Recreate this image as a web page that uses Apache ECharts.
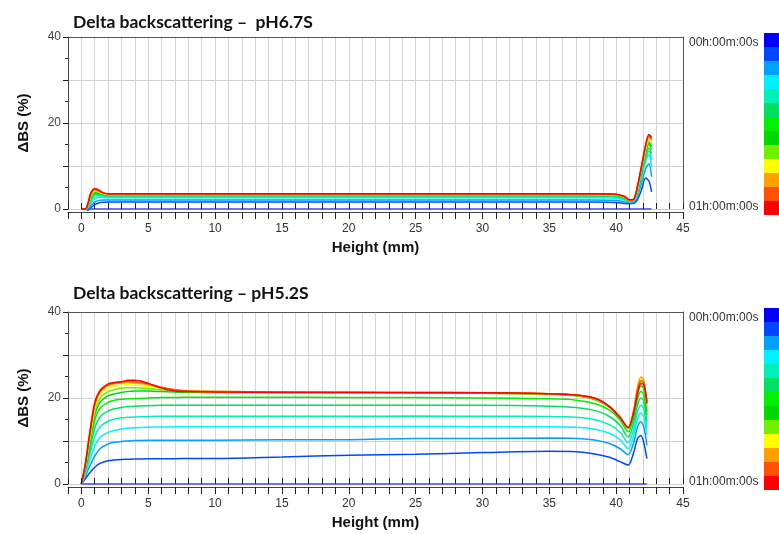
<!DOCTYPE html>
<html><head><meta charset="utf-8">
<script src="https://cdn.jsdelivr.net/npm/echarts@6/dist/echarts.min.js"></script>
<style>html,body{margin:0;padding:0;background:#fff}#c{width:779px;height:534px}</style>
</head><body><div id="c"></div>
<script>
// ---------- text ----------
const TITLES = ['Delta backscattering \u2013  pH6.7S', 'Delta backscattering \u2013 pH5.2S'];
const TIME_LABELS = ['00h:00m:00s', '01h:00m:00s'];
const X_NAME = 'Height (mm)';
const Y_NAME = '\u0394BS (%)';
const X_TICK_LABELS = [0, 5, 10, 15, 20, 25, 30, 35, 40, 45];
const Y_TICK_LABELS = [0, 20, 40];
// time-scale colours (00h -> 01h)
const COLORS = ['#0000ff','#0048ff','#00a0ff','#00f0ff','#00f0b8','#00e060','#00f000','#00d800','#70f000','#ffff00','#ffa000','#ff5000','#ff0000'];

// ---------- data: pH6.7S ----------
const X_TOP = [0, 0.3, 0.5, 0.7, 1.0, 1.3, 1.6, 2.0, 2.5, 3, 5, 10, 20, 30, 38, 40, 40.6, 41.0, 41.3, 41.6, 41.9, 42.2, 42.45, 42.65];
const TOP_00 = [0,0,0,0,0,0,0,0,0,0,0,0,0,0,0,0,0,0,0,0,0,0,0,0];
const TOP_01 = [0, 0, -0.3, 0.3, 1.0, 1.4, 1.55, 1.6, 1.6, 1.6, 1.6, 1.6, 1.6, 1.6, 1.6, 1.5, 1.3, 1.2, 1.3, 2.2, 4.5, 7.2, 6.5, 4.0];
const TOP_02 = [0, 0, 0, 0.8, 1.6, 2.0, 2.1, 2.1, 2.1, 2.1, 2.1, 2.1, 2.1, 2.1, 2.1, 2.0, 1.7, 1.5, 1.6, 3.0, 6.0, 9.3, 10.5, 7.5];
const TOP_03 = [0, 0, 0.4, 1.4, 2.4, 2.7, 2.65, 2.6, 2.6, 2.6, 2.6, 2.6, 2.6, 2.6, 2.6, 2.5, 2.1, 1.7, 1.8, 3.5, 7.2, 10.9, 12.6, 9.8];
const TOP_04 = [0, 0, 0.6, 1.9, 3.0, 3.1, 3.0, 2.9, 2.9, 2.9, 2.9, 2.9, 2.9, 2.9, 2.9, 2.8, 2.3, 1.8, 1.9, 3.8, 7.8, 11.6, 13.5, 11.5];
const TOP_05 = [0, 0, 0.7, 2.2, 3.4, 3.4, 3.2, 3.1, 3.1, 3.1, 3.1, 3.1, 3.1, 3.1, 3.1, 3.0, 2.5, 1.9, 2.0, 4.0, 8.2, 12.2, 14.2, 12.8];
const TOP_06 = [0, 0, 0.8, 2.5, 3.7, 3.6, 3.35, 3.2, 3.2, 3.2, 3.2, 3.2, 3.2, 3.2, 3.2, 3.1, 2.6, 1.95, 2.0, 4.2, 8.7, 12.9, 15.0, 13.8];
const TOP_07 = [0, 0, 0.9, 2.7, 3.9, 3.8, 3.5, 3.3, 3.3, 3.3, 3.3, 3.3, 3.3, 3.3, 3.3, 3.2, 2.7, 2.0, 2.05, 4.4, 8.9, 13.3, 15.4, 14.5];
const TOP_08 = [0, 0, 1.0, 2.9, 4.1, 3.9, 3.55, 3.35, 3.35, 3.35, 3.35, 3.35, 3.35, 3.35, 3.35, 3.25, 2.75, 2.0, 2.1, 4.6, 9.2, 13.6, 15.8, 15.0];
const TOP_09 = [0, 0, 1.1, 3.1, 4.3, 4.05, 3.6, 3.4, 3.4, 3.4, 3.4, 3.4, 3.4, 3.4, 3.4, 3.3, 2.8, 2.05, 2.1, 4.8, 9.4, 14.0, 16.3, 15.6];
const TOP_10 = [0, 0, 1.2, 3.3, 4.5, 4.2, 3.7, 3.45, 3.45, 3.45, 3.45, 3.45, 3.45, 3.45, 3.45, 3.35, 2.85, 2.1, 2.15, 5.0, 9.7, 14.4, 16.8, 16.0];
const TOP_11 = [0, 0, 1.3, 3.5, 4.6, 4.3, 3.75, 3.5, 3.5, 3.5, 3.5, 3.5, 3.5, 3.5, 3.5, 3.4, 2.9, 2.1, 2.2, 5.2, 9.9, 14.7, 17.1, 16.3];
const TOP_12 = [0, 0, 1.4, 3.7, 4.7, 4.4, 3.8, 3.55, 3.55, 3.55, 3.55, 3.55, 3.55, 3.55, 3.55, 3.45, 2.95, 2.15, 2.25, 5.4, 10.0, 14.8, 17.3, 16.6];

// ---------- data: pH5.2S ----------
const X_BOT = [0, 0.3, 0.6, 1.0, 1.4, 2.0, 2.5, 3.0, 3.5, 4.0, 5.0, 6.0, 7.0, 8.0, 10, 15, 20, 25, 30, 35, 37, 38.5, 39.5, 40.3, 40.9, 41.3, 41.6, 41.85, 42.05, 42.3];
const BOT_00 = [0,0,0,0,0,0,0,0,0,0,0,0,0,0,0,0,0,0,0,0,0,0,0,0,0,0,0,0,0,0];
const BOT_01 = [0, 1.2, 2.5, 3.9, 4.8, 5.4, 5.6, 5.7, 5.75, 5.8, 5.85, 5.9, 5.9, 5.95, 5.95, 6.3, 6.7, 6.9, 7.3, 7.6, 7.5, 6.9, 6.2, 5.2, 4.4, 7.2, 10.6, 11.3, 9.8, 5.9];
const BOT_02 = [0, 1.8, 4.0, 6.5, 8.2, 9.3, 9.7, 9.9, 10.0, 10.1, 10.2, 10.2, 10.2, 10.2, 10.2, 10.3, 10.3, 10.6, 10.6, 10.7, 10.6, 10.2, 9.4, 8.2, 6.8, 9.5, 13.3, 14.5, 13.5, 9.0];
const BOT_03 = [0, 2.3, 5.3, 8.8, 10.8, 12.0, 12.5, 12.8, 13.0, 13.1, 13.2, 13.25, 13.3, 13.3, 13.3, 13.3, 13.3, 13.4, 13.3, 13.3, 13.2, 12.7, 11.8, 10.3, 8.2, 11.1, 15.1, 16.5, 15.8, 11.5];
const BOT_04 = [0, 2.8, 6.5, 11.0, 13.3, 14.6, 15.1, 15.4, 15.5, 15.6, 15.7, 15.75, 15.75, 15.75, 15.75, 15.75, 15.75, 15.8, 15.75, 15.7, 15.5, 14.9, 13.8, 12.0, 9.6, 12.6, 16.8, 18.3, 17.6, 13.0];
const BOT_05 = [0, 3.2, 7.5, 13.0, 15.6, 17.0, 17.5, 17.8, 18.0, 18.1, 18.2, 18.3, 18.3, 18.3, 18.3, 18.3, 18.3, 18.3, 18.3, 18.1, 17.8, 17.0, 15.7, 13.6, 10.9, 14.1, 18.4, 20.0, 19.4, 14.5];
const BOT_06 = [0, 3.6, 8.5, 14.8, 17.6, 19.0, 19.5, 19.7, 19.8, 19.9, 20.0, 20.1, 20.1, 20.2, 20.2, 20.2, 20.1, 20.1, 20.0, 19.8, 19.5, 18.6, 17.2, 14.9, 12.1, 15.4, 19.8, 21.5, 21.0, 16.0];
const BOT_07 = [0, 3.9, 9.2, 16.0, 19.0, 20.5, 21.0, 21.3, 21.5, 21.6, 21.6, 21.5, 21.4, 21.3, 21.3, 21.3, 21.3, 21.2, 21.1, 20.9, 20.5, 19.5, 17.8, 15.3, 12.9, 16.3, 21.0, 22.8, 22.3, 17.0];
const BOT_08 = [0, 4.1, 9.7, 16.8, 20.0, 21.5, 22.0, 22.3, 22.4, 22.4, 22.2, 21.9, 21.6, 21.5, 21.4, 21.4, 21.3, 21.3, 21.2, 21.0, 20.6, 19.7, 17.9, 15.4, 13.0, 16.6, 21.6, 23.8, 23.3, 18.0];
const BOT_09 = [0, 4.3, 10.2, 17.6, 20.8, 22.3, 22.8, 23.0, 23.1, 23.0, 22.7, 22.2, 21.8, 21.6, 21.5, 21.4, 21.4, 21.3, 21.2, 21.0, 20.7, 19.8, 18.0, 15.5, 13.0, 16.8, 22.2, 24.5, 24.0, 18.5];
const BOT_10 = [0, 4.5, 10.7, 18.2, 21.4, 22.8, 23.3, 23.5, 23.6, 23.5, 23.1, 22.4, 21.9, 21.6, 21.5, 21.4, 21.4, 21.3, 21.2, 21.0, 20.7, 19.8, 18.0, 15.5, 13.1, 17.0, 22.5, 24.9, 24.4, 19.0];
const BOT_11 = [0, 4.6, 11.0, 18.6, 21.8, 23.1, 23.5, 23.7, 23.9, 23.8, 23.3, 22.5, 21.9, 21.6, 21.5, 21.4, 21.3, 21.3, 21.2, 21.0, 20.7, 19.8, 18.0, 15.5, 13.1, 16.8, 21.8, 24.0, 23.7, 19.3];
const BOT_12 = [0, 4.7, 11.3, 18.9, 21.6, 23.3, 23.6, 23.8, 24.1, 24.1, 23.4, 22.3, 21.6, 21.5, 21.4, 21.3, 21.3, 21.2, 21.2, 21.0, 20.7, 19.9, 18.0, 15.4, 13.1, 16.4, 21.0, 23.3, 23.2, 18.7];

const PANELS = [
  { x: X_TOP, series: [TOP_00,TOP_01,TOP_02,TOP_03,TOP_04,TOP_05,TOP_06,TOP_07,TOP_08,TOP_09,TOP_10,TOP_11,TOP_12] },
  { x: X_BOT, series: [BOT_00,BOT_01,BOT_02,BOT_03,BOT_04,BOT_05,BOT_06,BOT_07,BOT_08,BOT_09,BOT_10,BOT_11,BOT_12] }
];

// ---------- layout ----------
const GRID_LEFT = 68, GRID_W = 615, GRID_H = 172;
const GRID_TOPS = [37, 312];
const TITLE_TOPS = [13, 284];
const BAR_X = 764, BAR_W = 16, BAR_SEG_H = 14;
const BAR_TOPS = [33, 308];
const FONT = "'Liberation Sans', Arial, sans-serif";

const grids = [], xAxes = [], yAxes = [], series = [], titles = [], graphics = [];
PANELS.forEach((p, g) => {
  grids.push({ left: GRID_LEFT, top: GRID_TOPS[g], width: GRID_W, height: GRID_H, containLabel: false });
  titles.push({ text: TITLES[g], left: 73, top: TITLE_TOPS[g], padding: 0,
    textStyle: { fontFamily: "Lato, 'Liberation Sans', sans-serif", fontWeight: 'bold', fontSize: 17.5, color: '#111' } });
  // main bottom axis
  xAxes.push({ gridIndex: g, type: 'value', min: -1, max: 45, interval: 1, position: 'bottom', offset: 3,
    axisLine: { show: true, onZero: false, lineStyle: { color: '#444', width: 1 } },
    axisTick: { show: true, length: 7, lineStyle: { color: '#222', width: 1 } },
    axisLabel: { margin: 11, fontSize: 12, color: '#333', fontFamily: FONT,
      formatter: v => X_TICK_LABELS.includes(v) ? String(v) : '' },
    splitLine: { show: true, lineStyle: { color: '#d6d6d6', width: 1 } },
    name: X_NAME, nameLocation: 'middle', nameGap: 28,
    nameTextStyle: { fontFamily: FONT, fontWeight: 'bold', fontSize: 15, color: '#111' } });
  // inward ticks, drawn above the curves
  xAxes.push({ gridIndex: g, type: 'value', min: -1, max: 45, interval: 1, position: 'bottom', offset: 3, z: 20,
    axisLine: { show: false }, axisTick: { show: true, inside: true, length: 6, lineStyle: { color: '#222', width: 1 } },
    axisLabel: { show: false }, splitLine: { show: false } });
  // top border
  xAxes.push({ gridIndex: g, type: 'value', min: -1, max: 45, position: 'top',
    axisLine: { show: true, onZero: false, lineStyle: { color: '#555' } }, axisTick: { show: false },
    axisLabel: { show: false }, splitLine: { show: false } });
  yAxes.push({ gridIndex: g, type: 'value', min: 0, max: 40, interval: 10, position: 'left',
    axisLine: { show: true, onZero: false, lineStyle: { color: '#444' } },
    axisTick: { show: true, length: 5, lineStyle: { color: '#222' } },
    minorTick: { show: true, splitNumber: 2, length: 3, lineStyle: { color: '#222' } },
    axisLabel: { margin: 7, fontSize: 12, color: '#444', fontFamily: FONT,
      formatter: v => Y_TICK_LABELS.includes(v) ? String(v) : '' },
    splitLine: { show: true, lineStyle: { color: '#d0d0d0', width: 1 } },
    name: Y_NAME, nameLocation: 'middle', nameGap: 37,
    nameTextStyle: { fontFamily: FONT, fontWeight: 'bold', fontSize: 15, color: '#111' } });
  yAxes.push({ gridIndex: g, type: 'value', min: 0, max: 40, position: 'right',
    axisLine: { show: true, onZero: false, lineStyle: { color: '#555' } }, axisTick: { show: false },
    axisLabel: { show: false }, splitLine: { show: false } });

  p.series.forEach((vals, k) => {
    series.push({ type: 'line', xAxisIndex: g * 3, yAxisIndex: g * 2, showSymbol: false, smooth: 0.3,
      clip: false, animation: false, silent: true,
      lineStyle: { color: k === 0 ? '#7070ff' : COLORS[k], width: k === 0 ? 2 : 1.5 },
      data: p.x.map((x, i) => [x, vals[i]]) });
  });

  // colour scale
  COLORS.forEach((c, k) => {
    graphics.push({ type: 'rect', shape: { x: BAR_X, y: BAR_TOPS[g] + k * BAR_SEG_H, width: BAR_W, height: BAR_SEG_H },
      style: { fill: c }, silent: true });
  });
  graphics.push({ type: 'text', x: 689, y: BAR_TOPS[g] + 10,
    style: { text: TIME_LABELS[0], fill: '#333', font: '12px ' + FONT, verticalAlign: 'middle' } });
  graphics.push({ type: 'text', x: 689, y: BAR_TOPS[g] + COLORS.length * BAR_SEG_H - 8,
    style: { text: TIME_LABELS[1], fill: '#333', font: '12px ' + FONT, verticalAlign: 'middle' } });
});

const chart = echarts.init(document.getElementById('c'), null, { renderer: 'canvas' });
chart.setOption({
  animation: false,
  backgroundColor: '#fff',
  textStyle: { fontFamily: FONT },
  title: titles,
  grid: grids,
  xAxis: xAxes,
  yAxis: yAxes,
  series: series,
  graphic: graphics
});
</script>
</body></html>
